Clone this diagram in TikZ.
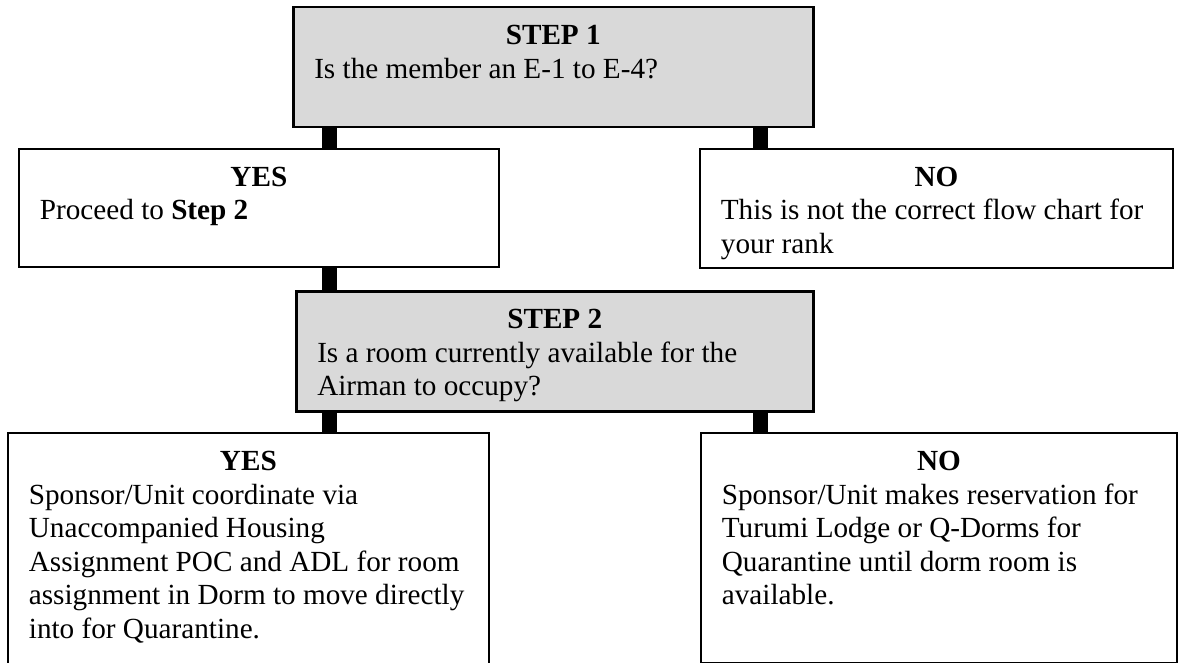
\documentclass[tikz,border=0pt]{standalone}
\usepackage{fontspec}
\setmainfont{Liberation Serif}
\usepackage{tikz}
\usetikzlibrary{calc}

\definecolor{stepgray}{HTML}{D9D9D9}

% heading centred, body flush left, box of fixed size
\newcommand{\flowtext}[4]{%
    \begin{minipage}[t][#2][t]{#1}
        {\centering\rule{0pt}{37.5pt}\textbf{#3}\par}
        \raggedright #4
    \end{minipage}}

\begin{document}
\begin{tikzpicture}[
    x=1pt, y=-1pt,
    font=\fontsize{29.2}{33.6}\selectfont,
    flowbox/.style={
        draw,
        rectangle,
        anchor = north west,
        inner xsep = 21pt,
        inner ysep = 0pt,
        },
    stepbox/.style={
        flowbox,
        line width = 2.5pt,
        fill = stepgray,
        },
    answerbox/.style={
        flowbox,
        line width = 1.8pt,
        fill = white,
        },
    link/.style={
        line width = 15pt,
        black,
        },
]

\useasboundingbox (0,0) rectangle (1178,663);
\clip (0,0) rectangle (1178,663);

\coordinate (yescol) at (329,0);
\coordinate (nocol) at (760,0);

\node [stepbox] (step1) at (292,6)
    {\flowtext{478pt}{120pt}{STEP 1}{Is the member an E-1 to E-4?}};

\node [answerbox] (yes1) at (18,148)
    {\flowtext{438pt}{118pt}{YES}{Proceed to \textbf{Step 2}}};
\node [answerbox] (no1) at (699,148)
    {\flowtext{431pt}{119pt}{NO}{This is not the correct flow chart for\\ your rank}};

\node [stepbox] (step2) at (295,290)
    {\flowtext{475pt}{120pt}{STEP 2}{Is a room currently available for the\\ Airman to occupy?}};

\node [answerbox] (yes2) at (7,432)
    {\flowtext{439pt}{268pt}{YES}{Sponsor/Unit coordinate via\\ Unaccompanied Housing\\
        Assignment POC and ADL for room\\ assignment in Dorm to move directly\\
        into for Quarantine.}};
\node [answerbox] (no2) at (700,432)
    {\flowtext{434pt}{230pt}{NO}{Sponsor/Unit makes reservation for\\ Turumi Lodge or Q-Dorms for\\
        Quarantine until dorm room is\\ available.}};

% connectors
\draw[link] (yescol |- step1.south) -- (yescol |- yes1.north);
\draw[link] (nocol |- step1.south) -- (nocol |- no1.north);
\draw[link] (yescol |- yes1.south) -- (yescol |- step2.north);
\draw[link] (yescol |- step2.south) -- (yescol |- yes2.north);
\draw[link] (nocol |- step2.south) -- (nocol |- no2.north);

\end{tikzpicture}
\end{document}
